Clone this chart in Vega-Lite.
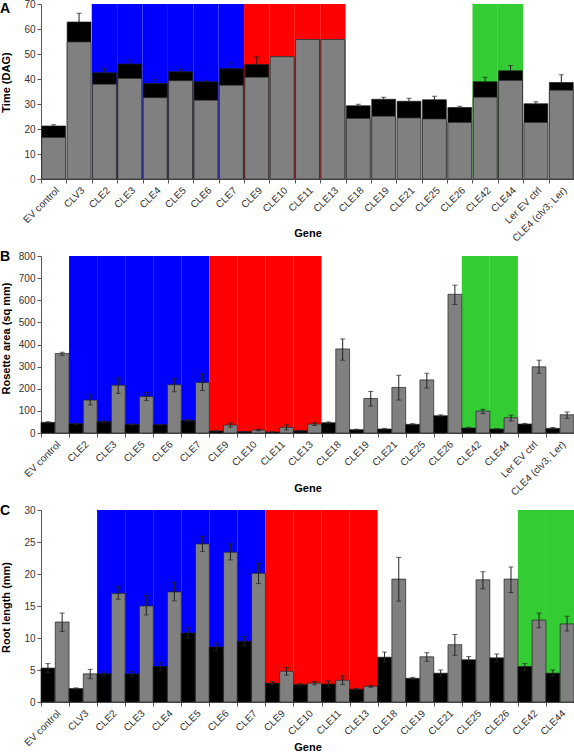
{
  "$schema": "https://vega.github.io/schema/vega-lite/v6.json",
  "padding": {"left": 0, "top": -1, "right": 0, "bottom": 0},
  "config": {
    "font": "Liberation Sans",
    "view": {"stroke": null},
    "axis": {"grid": false, "domainColor": "#555555", "tickColor": "#555555", "labelColor": "#333333", "labelFontSize": 10, "titleFontSize": 11, "titleFontWeight": "bold", "titleColor": "#000000", "tickSize": 4, "labelPadding": 2},
    "axisY": {"titleX": -35, "titleBaseline": "middle", "labelOverlap": false},
    "title": {"fontSize": 14, "fontWeight": "bold", "anchor": "start", "frame": "bounds", "baseline": "middle", "offset": 0, "color": "#000000"}
  },
  "datasets": {
    "bgA": [
      {"gene": "CLE2", "group": "CLE2-7"}, {"gene": "CLE3", "group": "CLE2-7"}, {"gene": "CLE4", "group": "CLE2-7"},
      {"gene": "CLE5", "group": "CLE2-7"}, {"gene": "CLE6", "group": "CLE2-7"}, {"gene": "CLE7", "group": "CLE2-7"},
      {"gene": "CLE9", "group": "CLE9-13"}, {"gene": "CLE10", "group": "CLE9-13"}, {"gene": "CLE11", "group": "CLE9-13"}, {"gene": "CLE13", "group": "CLE9-13"},
      {"gene": "CLE42", "group": "CLE42-44"}, {"gene": "CLE44", "group": "CLE42-44"}
    ],
    "bgB": [
      {"gene": "CLE2", "group": "CLE2-7"}, {"gene": "CLE3", "group": "CLE2-7"},
      {"gene": "CLE5", "group": "CLE2-7"}, {"gene": "CLE6", "group": "CLE2-7"}, {"gene": "CLE7", "group": "CLE2-7"},
      {"gene": "CLE9", "group": "CLE9-13"}, {"gene": "CLE10", "group": "CLE9-13"}, {"gene": "CLE11", "group": "CLE9-13"}, {"gene": "CLE13", "group": "CLE9-13"},
      {"gene": "CLE42", "group": "CLE42-44"}, {"gene": "CLE44", "group": "CLE42-44"}
    ],
    "timeA": [
      {"gene": "EV control", "lower": 16.6, "total": 21.2, "hi": 21.7},
      {"gene": "CLV3", "lower": 54.8, "total": 62.8, "hi": 66.3},
      {"gene": "CLE2", "lower": 37.9, "total": 42.5, "hi": 44.1},
      {"gene": "CLE3", "lower": 40.2, "total": 46.0, "hi": 47.6},
      {"gene": "CLE4", "lower": 32.5, "total": 38.2, "hi": 39.7},
      {"gene": "CLE5", "lower": 39.3, "total": 42.9, "hi": 43.9},
      {"gene": "CLE6", "lower": 31.5, "total": 38.9, "hi": 39.5},
      {"gene": "CLE7", "lower": 37.5, "total": 44.1, "hi": 46.1},
      {"gene": "CLE9", "lower": 40.7, "total": 45.8, "hi": 48.9},
      {"gene": "CLE10", "lower": 48.9, "total": 48.9, "hi": null},
      {"gene": "CLE11", "lower": 55.8, "total": 55.8, "hi": null},
      {"gene": "CLE13", "lower": 55.8, "total": 55.8, "hi": null},
      {"gene": "CLE18", "lower": 24.2, "total": 29.3, "hi": 29.9},
      {"gene": "CLE19", "lower": 25.1, "total": 31.9, "hi": 32.7},
      {"gene": "CLE21", "lower": 24.4, "total": 31.1, "hi": 32.3},
      {"gene": "CLE25", "lower": 24.0, "total": 31.7, "hi": 33.1},
      {"gene": "CLE26", "lower": 22.6, "total": 28.6, "hi": 29.1},
      {"gene": "CLE42", "lower": 32.7, "total": 38.9, "hi": 40.7},
      {"gene": "CLE44", "lower": 39.4, "total": 43.3, "hi": 45.4},
      {"gene": "Ler EV ctrl", "lower": 22.6, "total": 30.1, "hi": 30.9},
      {"gene": "CLE4 (clv3; Ler)", "lower": 35.5, "total": 38.6, "hi": 41.7}
    ],
    "rosetteB": [
      {"gene": "EV control", "series": "first", "value": 48, "lo": 45, "hi": 51},
      {"gene": "EV control", "series": "second", "value": 359, "lo": 351, "hi": 365},
      {"gene": "CLE2", "series": "first", "value": 42, "lo": 39, "hi": 45},
      {"gene": "CLE2", "series": "second", "value": 149, "lo": 127, "hi": 172},
      {"gene": "CLE3", "series": "first", "value": 51, "lo": 46, "hi": 56},
      {"gene": "CLE3", "series": "second", "value": 216, "lo": 179, "hi": 249},
      {"gene": "CLE5", "series": "first", "value": 39, "lo": 37, "hi": 41},
      {"gene": "CLE5", "series": "second", "value": 165, "lo": 147, "hi": 183},
      {"gene": "CLE6", "series": "first", "value": 37.5, "lo": 35.5, "hi": 39.5},
      {"gene": "CLE6", "series": "second", "value": 218, "lo": 186, "hi": 245},
      {"gene": "CLE7", "series": "first", "value": 57, "lo": 54, "hi": 60},
      {"gene": "CLE7", "series": "second", "value": 228, "lo": 192, "hi": 267},
      {"gene": "CLE9", "series": "first", "value": 9, "lo": 7, "hi": 11},
      {"gene": "CLE9", "series": "second", "value": 36, "lo": 26, "hi": 45},
      {"gene": "CLE10", "series": "first", "value": 6, "lo": 5, "hi": 7},
      {"gene": "CLE10", "series": "second", "value": 13.5, "lo": 10, "hi": 17},
      {"gene": "CLE11", "series": "first", "value": 4.5, "lo": 3.5, "hi": 5.5},
      {"gene": "CLE11", "series": "second", "value": 25.5, "lo": 14, "hi": 37},
      {"gene": "CLE13", "series": "first", "value": 10.5, "lo": 9, "hi": 12},
      {"gene": "CLE13", "series": "second", "value": 40.5, "lo": 34, "hi": 47},
      {"gene": "CLE18", "series": "first", "value": 46.5, "lo": 43, "hi": 50},
      {"gene": "CLE18", "series": "second", "value": 380, "lo": 329, "hi": 425},
      {"gene": "CLE19", "series": "first", "value": 15, "lo": 13, "hi": 17},
      {"gene": "CLE19", "series": "second", "value": 156, "lo": 122, "hi": 188},
      {"gene": "CLE21", "series": "first", "value": 18, "lo": 15, "hi": 21},
      {"gene": "CLE21", "series": "second", "value": 206, "lo": 149, "hi": 261},
      {"gene": "CLE25", "series": "first", "value": 39, "lo": 36, "hi": 42},
      {"gene": "CLE25", "series": "second", "value": 240, "lo": 203, "hi": 270},
      {"gene": "CLE26", "series": "first", "value": 78, "lo": 74, "hi": 82},
      {"gene": "CLE26", "series": "second", "value": 627, "lo": 581, "hi": 668},
      {"gene": "CLE42", "series": "first", "value": 22.5, "lo": 19.5, "hi": 25.5},
      {"gene": "CLE42", "series": "second", "value": 99, "lo": 88, "hi": 107},
      {"gene": "CLE44", "series": "first", "value": 18, "lo": 16, "hi": 20},
      {"gene": "CLE44", "series": "second", "value": 69, "lo": 54, "hi": 81},
      {"gene": "Ler EV ctrl", "series": "first", "value": 40.5, "lo": 37.5, "hi": 43.5},
      {"gene": "Ler EV ctrl", "series": "second", "value": 299, "lo": 270, "hi": 329},
      {"gene": "CLE4 (clv3; Ler)", "series": "first", "value": 21, "lo": 17, "hi": 25},
      {"gene": "CLE4 (clv3; Ler)", "series": "second", "value": 82.5, "lo": 66, "hi": 95}
    ],
    "rootC": [
      {"gene": "EV control", "series": "first", "value": 5.3, "lo": 4.6, "hi": 6.0},
      {"gene": "EV control", "series": "second", "value": 12.5, "lo": 11.0, "hi": 13.9},
      {"gene": "CLV3", "series": "first", "value": 2.1, "lo": 2.0, "hi": 2.2},
      {"gene": "CLV3", "series": "second", "value": 4.4, "lo": 3.65, "hi": 5.1},
      {"gene": "CLE2", "series": "first", "value": 4.4, "lo": 4.1, "hi": 4.7},
      {"gene": "CLE2", "series": "second", "value": 16.95, "lo": 16.05, "hi": 18.0},
      {"gene": "CLE3", "series": "first", "value": 4.4, "lo": 4.0, "hi": 4.8},
      {"gene": "CLE3", "series": "second", "value": 15.0, "lo": 13.6, "hi": 16.6},
      {"gene": "CLE4", "series": "first", "value": 5.55, "lo": 4.9, "hi": 6.2},
      {"gene": "CLE4", "series": "second", "value": 17.2, "lo": 15.8, "hi": 18.7},
      {"gene": "CLE5", "series": "first", "value": 10.8, "lo": 10.0, "hi": 11.6},
      {"gene": "CLE5", "series": "second", "value": 24.7, "lo": 23.5, "hi": 25.9},
      {"gene": "CLE6", "series": "first", "value": 8.6, "lo": 8.0, "hi": 9.2},
      {"gene": "CLE6", "series": "second", "value": 23.4, "lo": 22.2, "hi": 24.7},
      {"gene": "CLE7", "series": "first", "value": 9.5, "lo": 8.8, "hi": 10.2},
      {"gene": "CLE7", "series": "second", "value": 20.1, "lo": 18.5, "hi": 21.7},
      {"gene": "CLE9", "series": "first", "value": 2.95, "lo": 2.7, "hi": 3.2},
      {"gene": "CLE9", "series": "second", "value": 4.8, "lo": 4.2, "hi": 5.4},
      {"gene": "CLE10", "series": "first", "value": 2.75, "lo": 2.65, "hi": 2.85},
      {"gene": "CLE10", "series": "second", "value": 2.95, "lo": 2.7, "hi": 3.2},
      {"gene": "CLE11", "series": "first", "value": 2.8, "lo": 2.3, "hi": 3.3},
      {"gene": "CLE11", "series": "second", "value": 3.4, "lo": 2.7, "hi": 4.1},
      {"gene": "CLE13", "series": "first", "value": 2.0, "lo": 1.9, "hi": 2.1},
      {"gene": "CLE13", "series": "second", "value": 2.45, "lo": 2.3, "hi": 2.6},
      {"gene": "CLE18", "series": "first", "value": 7.0, "lo": 6.2, "hi": 7.8},
      {"gene": "CLE18", "series": "second", "value": 19.2, "lo": 15.75, "hi": 22.6},
      {"gene": "CLE19", "series": "first", "value": 3.7, "lo": 3.55, "hi": 3.85},
      {"gene": "CLE19", "series": "second", "value": 7.07, "lo": 6.35, "hi": 7.7},
      {"gene": "CLE21", "series": "first", "value": 4.5, "lo": 4.0, "hi": 5.0},
      {"gene": "CLE21", "series": "second", "value": 8.95, "lo": 7.3, "hi": 10.55},
      {"gene": "CLE25", "series": "first", "value": 6.6, "lo": 6.1, "hi": 7.1},
      {"gene": "CLE25", "series": "second", "value": 19.1, "lo": 17.7, "hi": 20.35},
      {"gene": "CLE26", "series": "first", "value": 6.9, "lo": 6.3, "hi": 7.5},
      {"gene": "CLE26", "series": "second", "value": 19.2, "lo": 17.1, "hi": 21.1},
      {"gene": "CLE42", "series": "first", "value": 5.55, "lo": 5.0, "hi": 6.0},
      {"gene": "CLE42", "series": "second", "value": 12.8, "lo": 11.6, "hi": 13.9},
      {"gene": "CLE44", "series": "first", "value": 4.5, "lo": 4.0, "hi": 5.0},
      {"gene": "CLE44", "series": "second", "value": 12.2, "lo": 11.1, "hi": 13.4}
    ]
  },
  "spacing": 77,
  "bounds": "flush",
  "vconcat": [
    {
      "width": 533, "height": 175,
      "title": {"text": "A", "dy": 21},
      "encoding": {
        "x": {"field": "gene", "type": "nominal", "title": "Gene",
          "scale": {"domain": ["EV control", "CLV3", "CLE2", "CLE3", "CLE4", "CLE5", "CLE6", "CLE7", "CLE9", "CLE10", "CLE11", "CLE13", "CLE18", "CLE19", "CLE21", "CLE25", "CLE26", "CLE42", "CLE44", "Ler EV ctrl", "CLE4 (clv3; Ler)"], "paddingInner": 0, "paddingOuter": 0},
          "axis": {"labelAngle": -45, "tickBand": "extent", "titleY": 54, "titleBaseline": "middle"}}
      },
      "layer": [
        {"data": {"name": "bgA"}, "mark": {"type": "bar", "width": {"band": 1}},
          "encoding": {"y": {"datum": 70, "type": "quantitative", "title": "Time (DAG)", "scale": {"domain": [0, 70]}, "axis": {"values": [0, 10, 20, 30, 40, 50, 60, 70], "titleY": 78}},
            "color": {"field": "group", "type": "nominal", "legend": null, "scale": {"domain": ["CLE2-7", "CLE9-13", "CLE42-44"], "range": ["#0000FF", "#FF0000", "#33CC33"]}}}},
        {"data": {"name": "timeA"}, "mark": {"type": "bar", "width": {"band": 0.94}, "color": "#000000", "stroke": "#222222", "strokeWidth": 0.7},
          "encoding": {"y": {"field": "total", "type": "quantitative", "title": "Time (DAG)", "axis": {"values": [0, 10, 20, 30, 40, 50, 60, 70], "titleY": 78}}}},
        {"data": {"name": "timeA"}, "mark": {"type": "bar", "width": {"band": 0.94}, "color": "#808080", "stroke": "#333333", "strokeWidth": 0.7},
          "encoding": {"y": {"field": "lower", "type": "quantitative", "title": "Time (DAG)", "axis": {"values": [0, 10, 20, 30, 40, 50, 60, 70], "titleY": 78}}}},
        {"data": {"name": "timeA"}, "transform": [{"filter": "isValid(datum.hi)"}], "mark": {"type": "rule", "color": "#222222", "strokeWidth": 1},
          "encoding": {"y": {"field": "total", "type": "quantitative", "title": "Time (DAG)", "axis": {"values": [0, 10, 20, 30, 40, 50, 60, 70], "titleY": 78}}, "y2": {"field": "hi"}}},
        {"data": {"name": "timeA"}, "transform": [{"filter": "isValid(datum.hi)"}], "mark": {"type": "tick", "color": "#222222", "size": 5, "thickness": 1},
          "encoding": {"y": {"field": "hi", "type": "quantitative", "title": "Time (DAG)", "axis": {"values": [0, 10, 20, 30, 40, 50, 60, 70], "titleY": 78}}}}
      ],
      "resolve": {"scale": {"color": "independent"}}
    },
    {
      "width": 533, "height": 177,
      "title": {"text": "B", "dy": 17},
      "encoding": {
        "x": {"field": "gene", "type": "nominal", "title": "Gene",
          "scale": {"domain": ["EV control", "CLE2", "CLE3", "CLE5", "CLE6", "CLE7", "CLE9", "CLE10", "CLE11", "CLE13", "CLE18", "CLE19", "CLE21", "CLE25", "CLE26", "CLE42", "CLE44", "Ler EV ctrl", "CLE4 (clv3; Ler)"], "paddingInner": 0, "paddingOuter": 0},
          "axis": {"labelAngle": -45, "tickBand": "extent", "titleY": 55, "titleBaseline": "middle"}}
      },
      "layer": [
        {"data": {"name": "bgB"}, "mark": {"type": "bar", "width": {"band": 1}},
          "encoding": {"y": {"datum": 800, "type": "quantitative", "title": "Rosette area (sq mm)", "scale": {"domain": [0, 800]}, "axis": {"values": [0, 100, 200, 300, 400, 500, 600, 700, 800], "titleY": 82}},
            "color": {"field": "group", "type": "nominal", "legend": null, "scale": {"domain": ["CLE2-7", "CLE9-13", "CLE42-44"], "range": ["#0000FF", "#FF0000", "#33CC33"]}}}},
        {"data": {"name": "rosetteB"}, "mark": {"type": "bar", "stroke": "#222222", "strokeWidth": 0.7},
          "encoding": {"y": {"field": "value", "type": "quantitative", "title": "Rosette area (sq mm)", "axis": {"values": [0, 100, 200, 300, 400, 500, 600, 700, 800], "titleY": 82}},
            "xOffset": {"field": "series", "type": "nominal", "scale": {"domain": ["first", "second"], "paddingInner": 0.03, "paddingOuter": 0}},
            "color": {"field": "series", "type": "nominal", "legend": null, "scale": {"domain": ["first", "second"], "range": ["#000000", "#808080"]}}}},
        {"data": {"name": "rosetteB"}, "mark": {"type": "rule", "color": "#222222", "strokeWidth": 1},
          "encoding": {"y": {"field": "lo", "type": "quantitative", "title": "Rosette area (sq mm)", "axis": {"values": [0, 100, 200, 300, 400, 500, 600, 700, 800], "titleY": 82}}, "y2": {"field": "hi"},
            "xOffset": {"field": "series", "type": "nominal"}}},
        {"data": {"name": "rosetteB"}, "mark": {"type": "tick", "color": "#222222", "size": 5, "thickness": 1},
          "encoding": {"y": {"field": "hi", "type": "quantitative", "title": "Rosette area (sq mm)", "axis": {"values": [0, 100, 200, 300, 400, 500, 600, 700, 800], "titleY": 82}}, "xOffset": {"field": "series", "type": "nominal"}}},
        {"data": {"name": "rosetteB"}, "mark": {"type": "tick", "color": "#222222", "size": 5, "thickness": 1},
          "encoding": {"y": {"field": "lo", "type": "quantitative", "title": "Rosette area (sq mm)", "axis": {"values": [0, 100, 200, 300, 400, 500, 600, 700, 800], "titleY": 82}}, "xOffset": {"field": "series", "type": "nominal"}}}
      ],
      "resolve": {"scale": {"color": "independent"}}
    },
    {
      "width": 533, "height": 192,
      "title": {"text": "C", "dy": 17},
      "encoding": {
        "x": {"field": "gene", "type": "nominal", "title": "Gene",
          "scale": {"domain": ["EV control", "CLV3", "CLE2", "CLE3", "CLE4", "CLE5", "CLE6", "CLE7", "CLE9", "CLE10", "CLE11", "CLE13", "CLE18", "CLE19", "CLE21", "CLE25", "CLE26", "CLE42", "CLE44"], "paddingInner": 0, "paddingOuter": 0},
          "axis": {"labelAngle": -45, "tickBand": "extent", "titleY": 45, "titleBaseline": "middle"}}
      },
      "layer": [
        {"data": {"name": "bgA"}, "mark": {"type": "bar", "width": {"band": 1}},
          "encoding": {"y": {"datum": 30, "type": "quantitative", "title": "Root length (mm)", "scale": {"domain": [0, 30]}, "axis": {"values": [0, 5, 10, 15, 20, 25, 30], "titleY": 97}},
            "color": {"field": "group", "type": "nominal", "legend": null, "scale": {"domain": ["CLE2-7", "CLE9-13", "CLE42-44"], "range": ["#0000FF", "#FF0000", "#33CC33"]}}}},
        {"data": {"name": "rootC"}, "mark": {"type": "bar", "stroke": "#222222", "strokeWidth": 0.7},
          "encoding": {"y": {"field": "value", "type": "quantitative", "title": "Root length (mm)", "axis": {"values": [0, 5, 10, 15, 20, 25, 30], "titleY": 97}},
            "xOffset": {"field": "series", "type": "nominal", "scale": {"domain": ["first", "second"], "paddingInner": 0.03, "paddingOuter": 0}},
            "color": {"field": "series", "type": "nominal", "legend": null, "scale": {"domain": ["first", "second"], "range": ["#000000", "#808080"]}}}},
        {"data": {"name": "rootC"}, "mark": {"type": "rule", "color": "#222222", "strokeWidth": 1},
          "encoding": {"y": {"field": "lo", "type": "quantitative", "title": "Root length (mm)", "axis": {"values": [0, 5, 10, 15, 20, 25, 30], "titleY": 97}}, "y2": {"field": "hi"},
            "xOffset": {"field": "series", "type": "nominal"}}},
        {"data": {"name": "rootC"}, "mark": {"type": "tick", "color": "#222222", "size": 5, "thickness": 1},
          "encoding": {"y": {"field": "hi", "type": "quantitative", "title": "Root length (mm)", "axis": {"values": [0, 5, 10, 15, 20, 25, 30], "titleY": 97}}, "xOffset": {"field": "series", "type": "nominal"}}},
        {"data": {"name": "rootC"}, "mark": {"type": "tick", "color": "#222222", "size": 5, "thickness": 1},
          "encoding": {"y": {"field": "lo", "type": "quantitative", "title": "Root length (mm)", "axis": {"values": [0, 5, 10, 15, 20, 25, 30], "titleY": 97}}, "xOffset": {"field": "series", "type": "nominal"}}}
      ],
      "resolve": {"scale": {"color": "independent"}}
    }
  ]
}
